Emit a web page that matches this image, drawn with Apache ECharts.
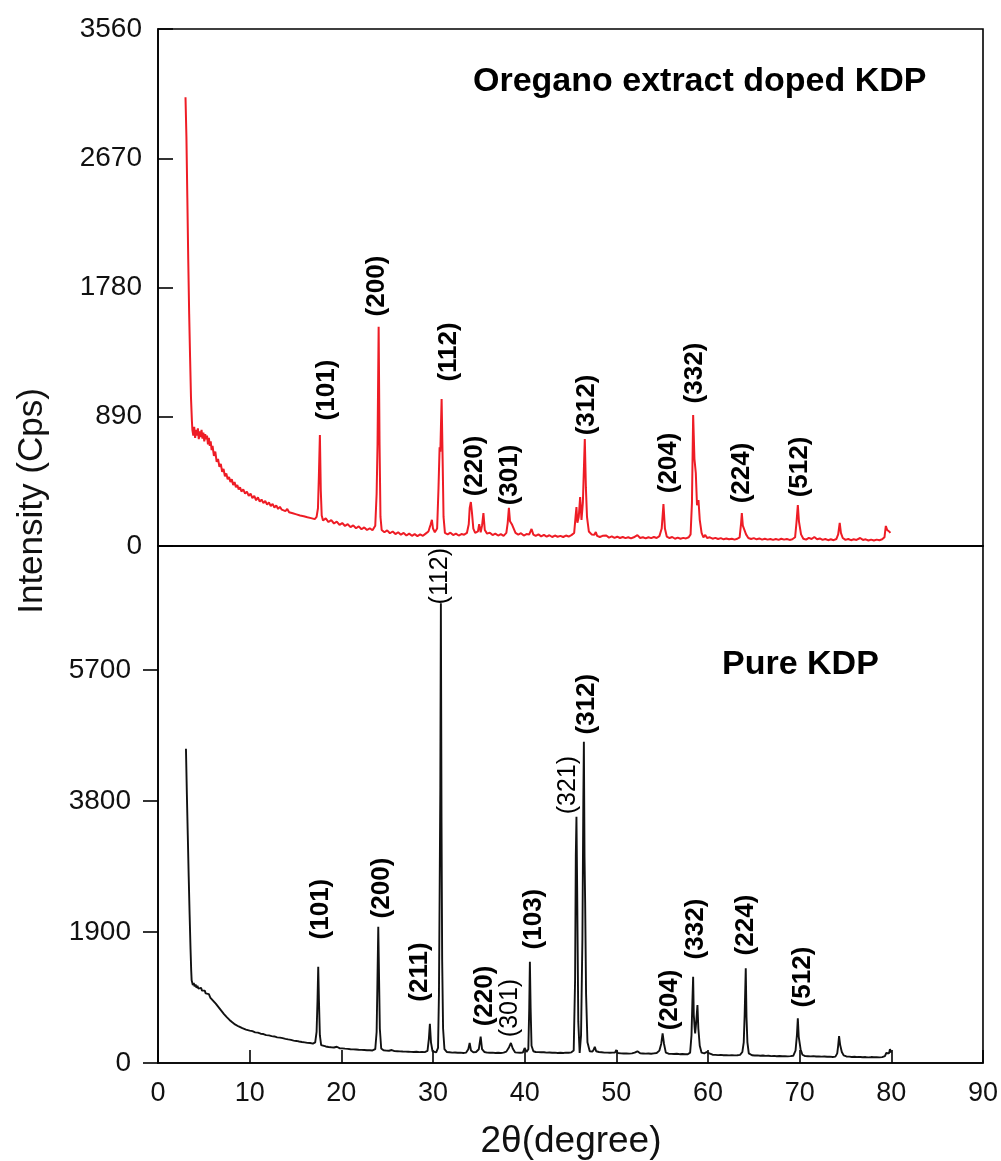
<!DOCTYPE html>
<html>
<head>
<meta charset="utf-8">
<script src="https://cdn.jsdelivr.net/npm/echarts@6/dist/echarts.min.js"></script>
<style>html,body{margin:0;padding:0;background:#fff}#c{width:1001px;height:1161px}</style>
</head>
<body>
<div id="c"></div>
<script>
// ---- DATA ----
const xTicks = [0, 10, 20, 30, 40, 50, 60, 70, 80, 90];
const dopedTicks = [0, 890, 1780, 2670, 3560];
const pureTicks = [0, 1900, 3800, 5700];

// Oregano extract doped KDP: [2theta, intensity]
const dopedXRD = [
[3.0,3090],[3.1,2820],[3.2,2400],[3.3,1970],[3.4,1600],[3.5,1300],[3.6,1020],[3.7,860],[3.75,800],
[3.85,760],[3.95,820],[4.05,745],[4.15,800],[4.25,760],[4.35,810],[4.45,735],[4.55,790],[4.65,750],[4.75,800],[4.85,740],[4.95,780],
[5.05,720],[5.15,770],[5.25,735],[5.35,760],[5.45,700],[5.55,745],[5.65,690],[5.75,720],[5.85,660],[5.95,690],[6.1,620],[6.25,650],
[6.4,580],[6.55,600],[6.7,545],[6.85,565],[7.0,510],[7.15,530],[7.3,480],[7.45,500],[7.6,460],[7.75,475],[7.9,440],[8.05,460],
[8.2,420],[8.35,440],[8.5,405],[8.65,420],[8.8,390],[8.95,405],[9.1,375],[9.3,390],[9.5,360],[9.7,375],[9.9,345],[10.1,360],
[10.3,330],[10.5,345],[10.7,315],[10.9,335],[11.1,305],[11.3,320],[11.5,295],[11.7,310],[11.9,285],[12.1,300],[12.3,275],[12.5,290],
[12.7,265],[12.9,280],[13.1,255],[13.3,270],[13.5,250],[13.7,262],[13.9,240],[14.1,255],[14.3,232],[14.5,245],[14.7,225],[14.9,238],
[15.1,218],[15.3,230],[15.5,210],[15.7,222],[15.9,205],[16.1,215],[16.3,198],[16.5,210],[16.7,192],[16.9,200],[17.1,185],
[17.3,200],[17.45,260],[17.55,480],[17.66,764],[17.76,380],[17.86,210],[18.0,175],
[18.3,190],[18.6,165],[18.9,178],[19.2,155],[19.5,168],[19.8,145],[20.1,158],[20.4,138],[20.7,150],[21.0,130],[21.3,142],[21.6,122],
[21.9,135],[22.2,115],[22.5,128],[22.8,110],[23.1,122],[23.4,108],[23.7,140],
[23.85,360],[23.95,700],[24.07,1510],[24.17,700],[24.27,200],[24.4,110],[24.7,95],[25.0,108],[25.3,88],[25.6,100],[25.9,82],[26.2,95],
[26.5,78],[26.8,90],[27.1,72],[27.4,85],[27.7,70],[28.0,82],[28.3,68],[28.6,80],[28.9,70],[29.2,85],[29.5,100],
[29.75,150],[29.88,180],[30.0,120],[30.2,95],
[30.45,120],[30.6,400],[30.72,680],[30.8,650],[30.94,1012],[31.05,600],[31.15,200],[31.3,90],[31.6,80],[31.9,92],[32.2,75],[32.5,85],
[32.8,72],[33.1,82],[33.4,78],[33.7,90],
[33.9,150],[34.0,260],[34.13,303],[34.25,230],[34.4,120],[34.6,90],[34.9,100],[35.04,151],[35.2,95],[35.35,140],[35.5,227],[35.65,110],
[35.9,85],[36.2,92],[36.5,75],[36.8,85],[37.1,72],[37.4,82],[37.7,70],[38.0,90],
[38.15,160],[38.28,262],[38.4,170],[38.6,150],[38.8,140],[39.0,90],[39.3,78],[39.6,88],[39.9,72],[40.2,82],[40.5,80],[40.75,117],
[40.95,78],[41.2,70],[41.5,80],[41.8,66],[42.1,76],[42.4,64],[42.7,74],[43.0,62],[43.3,72],[43.6,64],[43.9,70],[44.2,62],[44.5,72],
[44.8,65],[45.1,75],[45.4,90],
[45.55,200],[45.65,268],[45.75,160],[45.9,200],[46.05,337],[46.2,180],[46.35,300],[46.56,737],[46.68,400],[46.8,200],[47.0,100],
[47.3,80],[47.6,78],[47.76,96],[47.9,70],[48.2,62],[48.5,70],[48.9,72],[49.2,58],[49.5,66],[49.8,56],[50.1,64],[50.4,55],[50.7,62],
[51.0,54],[51.3,60],[51.6,52],[51.9,60],[52.3,75],[52.6,55],[52.9,60],[53.2,52],[53.5,60],[53.8,54],[54.1,62],[54.4,55],[54.7,68],
[54.95,120],[55.14,289],[55.3,120],[55.5,65],[55.8,55],[56.1,62],[56.4,50],[56.7,58],[57.0,50],[57.3,56],[57.6,52],[57.9,60],
[58.1,80],[58.25,300],[58.38,902],[58.52,600],[58.67,502],[58.8,280],[58.96,317],[59.1,180],[59.3,90],[59.5,60],[59.7,76],[59.9,55],
[60.2,60],[60.5,50],[60.8,56],[61.1,48],[61.4,54],[61.7,46],[62.0,52],[62.3,46],[62.6,50],[62.9,44],[63.2,50],[63.45,60],
[63.6,150],[63.69,227],[63.8,140],[64.0,131],[64.15,80],[64.4,55],[64.7,48],[65.0,54],[65.3,46],[65.6,52],[65.9,44],[66.2,50],
[66.5,44],[66.8,48],[67.1,42],[67.4,48],[67.7,42],[68.0,50],[68.3,44],[68.6,48],[68.9,42],[69.2,46],[69.5,60],
[69.65,160],[69.8,282],[69.92,170],[70.0,158],[70.15,80],[70.4,50],[70.7,44],[71.0,56],[71.3,48],[71.6,62],[71.9,46],[72.2,52],
[72.5,42],[72.8,48],[73.1,40],[73.4,46],[73.7,40],[74.0,48],[74.2,80],[74.37,160],[74.5,90],[74.7,55],[75.0,42],[75.3,48],[75.6,40],
[75.9,46],[76.2,42],[76.6,55],[76.9,42],[77.2,46],[77.5,38],[77.8,44],[78.1,38],[78.4,44],[78.7,40],[79.0,46],[79.25,60],[79.4,138],
[79.55,110],[79.7,120],[79.8,98],[79.9,90]
];

// Pure KDP: [2theta, intensity]
const pureXRD = [
[3.05,4560],[3.15,3900],[3.25,3300],[3.35,2700],[3.45,2150],[3.55,1650],[3.62,1350],[3.67,1200],[3.8,1130],[3.9,1160],[4.0,1110],
[4.1,1140],[4.2,1090],[4.3,1120],[4.4,1080],[4.5,1100],[4.6,1060],[4.7,1090],[4.8,1050],[4.9,1070],[5.0,1030],[5.1,1050],[5.2,1010],
[5.3,1030],[5.4,990],[5.55,1000],[5.7,950],[5.85,960],[6.0,905],[6.15,910],[6.3,860],[6.45,860],[6.6,810],[6.75,800],[6.9,760],
[7.05,750],[7.2,710],[7.35,700],[7.5,665],[7.65,655],[7.8,625],[7.95,620],[8.1,590],[8.25,585],[8.4,560],[8.6,555],[8.8,530],
[9.0,525],[9.2,505],[9.4,500],[9.6,485],[9.8,482],[10.0,470],[10.3,462],[10.6,445],[10.9,440],[11.2,425],[11.5,420],[11.8,405],
[12.1,400],[12.4,390],[12.7,385],[13.0,372],[13.3,368],[13.6,360],[13.9,350],[14.2,342],[14.5,335],[14.8,325],[15.1,320],[15.4,312],
[15.7,305],[16.0,300],[16.3,292],[16.6,290],[16.9,282],[17.15,300],
[17.3,450],[17.4,900],[17.48,1397],[17.56,900],[17.66,400],[17.8,260],[18.0,245],[18.3,240],[18.6,232],[18.9,228],[19.2,225],
[19.5,236],[19.8,215],[20.1,212],[20.4,208],[20.7,205],[21.0,200],[21.3,198],[21.6,195],[21.9,192],[22.2,190],[22.5,188],[22.8,186],
[23.1,184],[23.4,182],[23.7,200],
[23.85,450],[23.93,1100],[24.03,1977],[24.12,1200],[24.2,500],[24.35,210],[24.6,185],[24.9,180],[25.2,178],[25.5,188],[25.8,172],
[26.1,170],[26.4,168],[26.7,166],[27.0,165],[27.3,164],[27.6,162],[27.9,160],[28.2,164],[28.5,158],[28.8,160],[29.1,158],[29.4,175],
[29.55,350],[29.66,570],[29.78,300],[29.95,170],[30.15,160],[30.35,155],[30.55,220],
[30.65,1000],[30.72,2364],[30.8,4000],[30.86,6670],[30.93,3500],[31.0,1500],[31.1,500],[31.25,200],[31.5,160],[31.8,155],[32.1,150],
[32.4,152],[32.7,148],[33.0,150],[33.3,146],[33.6,150],[33.85,200],[34.0,290],[34.15,180],[34.4,155],[34.7,160],[35.0,200],[35.2,382],
[35.35,200],[35.6,160],[35.9,150],[36.2,148],[36.5,150],[36.8,146],[37.1,148],[37.4,145],[37.7,150],[38.0,165],[38.3,230],[38.5,290],
[38.7,210],[38.95,155],[39.2,150],[39.5,148],[39.8,150],[40.0,218],[40.2,160],[40.4,200],
[40.5,800],[40.57,1470],[40.65,800],[40.75,250],[40.95,170],[41.2,160],[41.5,158],[41.8,155],[42.1,156],[42.4,150],[42.7,152],
[43.0,148],[43.3,150],[43.6,146],[43.9,148],[44.2,145],[44.5,150],[44.8,148],[45.1,155],[45.35,180],
[45.5,1200],[45.58,3000],[45.65,3572],[45.73,2500],[45.85,600],[46.0,145],[46.15,400],[46.3,1800],
[46.4,3800],[46.46,4660],[46.53,3000],[46.6,2320],[46.7,1000],[46.85,300],[47.1,170],[47.4,165],[47.55,200],[47.65,236],[47.8,170],
[48.1,160],[48.4,155],[48.7,150],[49.0,150],[49.3,148],[49.6,150],[49.85,150],[50.0,188],[50.15,145],[50.5,140],[50.8,138],[51.1,140],
[51.4,136],[51.7,140],[52.0,150],[52.3,170],[52.6,140],[52.9,138],[53.2,136],[53.5,138],[53.8,135],[54.1,140],[54.4,145],[54.7,180],
[54.9,280],[55.05,430],[55.2,280],[55.4,150],[55.7,135],[56.0,132],[56.3,130],[56.6,134],[56.9,128],[57.2,130],[57.5,126],[57.8,128],
[58.05,150],[58.2,400],
[58.3,900],[58.38,1252],[58.45,700],[58.55,500],[58.6,430],[58.72,600],[58.85,841],[58.95,500],[59.1,250],[59.3,150],[59.6,140],
[59.85,160],[60.0,188],[60.15,140],[60.5,120],[60.8,118],[61.1,115],[61.4,118],[61.7,112],[62.0,115],[62.3,110],[62.6,114],
[62.9,110],[63.2,112],[63.5,118],[63.75,160],
[63.9,300],[64.0,700],[64.12,1373],[64.2,671],[64.3,300],[64.45,140],[64.8,112],[65.1,108],[65.4,110],[65.7,105],[66.0,108],
[66.3,104],[66.6,106],[66.9,100],[67.2,104],[67.5,98],[67.8,102],[68.1,98],[68.4,100],[68.7,96],[69.0,100],[69.3,105],[69.55,180],
[69.7,400],[69.8,648],[69.9,380],[69.95,334],[70.1,200],[70.3,120],[70.6,100],[70.9,98],[71.2,96],[71.5,100],[71.8,94],[72.1,96],
[72.4,92],[72.7,94],[73.0,90],[73.3,92],[73.6,88],[73.9,92],[74.1,140],[74.2,250],[74.3,391],[74.42,260],[74.6,160],[74.8,110],
[75.1,95],[75.4,92],[75.7,88],[76.0,90],[76.3,86],[76.6,88],[76.9,84],[77.2,86],[77.5,82],[77.8,86],[78.1,84],[78.4,85],[78.7,82],
[79.0,85],[79.3,100],[79.45,145],[79.6,150],[79.75,140],[79.85,200],[79.95,203],[80.0,150]
];

// Peak (hkl) labels: [text, 2theta of label centre, intensity of label centre]
const dopedLabels = [
['(101)',18.40,1074],['(200)',23.85,1790],['(112)',31.73,1336],['(220)',34.57,551],['(301)',38.39,489],
['(312)',46.78,971],['(204)',55.69,572],['(332)',58.61,1191],['(224)',63.69,503],['(512)',70.01,544]
];
const pureLabels = [
['(101)',17.78,2233],['(200)',24.43,2538],['(211)',28.57,1320],['(112)',30.75,7062],['(220)',35.66,972],
['(301)',38.39,798],['(103)',41.00,2088],['(321)',44.71,4031],['(312)',46.78,5206],['(204)',55.83,914],
['(332)',58.67,1943],['(224)',64.14,2001],['(512)',70.34,1247]
];
const pureLightLabels = ['(112)', '(321)', '(301)'];

// ---- CHART ----
const FONT = '"Liberation Sans", Arial, Helvetica, sans-serif';
const chart = echarts.init(document.getElementById('c'), null, {renderer: 'canvas'});

function labelSeries(list, xi, yi, lightSet) {
  return {
    type: 'scatter', xAxisIndex: xi, yAxisIndex: yi, symbolSize: 1,
    itemStyle: {color: 'rgba(0,0,0,0)'}, silent: true, z: 5,
    data: list.map(d => {
      const light = lightSet && lightSet.indexOf(d[0]) >= 0;
      return {
        value: [d[1], d[2]],
        label: {
          show: true, formatter: d[0], position: 'inside', rotate: 90,
          color: '#000', opacity: 1, fontFamily: FONT, fontSize: light ? 25 : 26,
          fontWeight: light ? 'normal' : 'bold'
        }
      };
    })
  };
}

const axisLineStyle = {color: '#000', width: 1.6};
const plainNum = v => String(v);

const option = {
  animation: false,
  backgroundColor: '#fff',
  grid: [
    {left: 158, right: 18, top: 29, height: 517, show: true, borderColor: '#000', borderWidth: 1.6, backgroundColor: 'transparent'},
    {left: 158, right: 18, top: 546, height: 517, show: true, borderColor: '#000', borderWidth: 1.6, backgroundColor: 'transparent'}
  ],
  xAxis: [
    {type: 'value', gridIndex: 0, min: 0, max: 90, interval: 10,
     axisLine: {show: true, onZero: false, lineStyle: axisLineStyle},
     axisTick: {show: false}, axisLabel: {show: false}, splitLine: {show: false}},
    {type: 'value', gridIndex: 1, min: 0, max: 90, interval: 10,
     axisLine: {show: true, onZero: false, lineStyle: axisLineStyle},
     axisTick: {show: true, inside: true, length: 13, lineStyle: axisLineStyle, customValues: xTicks},
     axisLabel: {show: true, margin: 17, color: '#111', fontFamily: FONT, fontSize: 27, customValues: xTicks, formatter: plainNum},
     splitLine: {show: false}}
  ],
  yAxis: [
    {type: 'value', gridIndex: 0, min: 0, max: 3560, interval: 890,
     axisLine: {show: true, onZero: false, lineStyle: axisLineStyle},
     axisTick: {show: true, inside: true, length: 15, lineStyle: axisLineStyle, customValues: dopedTicks},
     axisLabel: {show: true, margin: 16, color: '#111', fontFamily: FONT, fontSize: 28, customValues: dopedTicks, formatter: plainNum},
     splitLine: {show: false}},
    {type: 'value', gridIndex: 1, min: 0, max: 7500, interval: 1900,
     axisLine: {show: true, onZero: false, lineStyle: axisLineStyle},
     axisTick: {show: true, inside: false, length: 15, lineStyle: axisLineStyle, customValues: pureTicks},
     axisLabel: {show: true, margin: 27, color: '#111', fontFamily: FONT, fontSize: 28, customValues: pureTicks, formatter: plainNum},
     splitLine: {show: false}}
  ],
  series: [
    {type: 'line', xAxisIndex: 0, yAxisIndex: 0, data: dopedXRD, showSymbol: false, symbol: 'none',
     sampling: null, lineStyle: {color: '#ee1c25', width: 2}, itemStyle: {color: '#ee1c25'}, z: 3},
    {type: 'line', xAxisIndex: 1, yAxisIndex: 1, data: pureXRD, showSymbol: false, symbol: 'none',
     sampling: null, lineStyle: {color: '#111', width: 1.9}, itemStyle: {color: '#111'}, z: 3},
    labelSeries(dopedLabels, 0, 0, null),
    labelSeries(pureLabels, 1, 1, pureLightLabels)
  ],
  graphic: [
    {type: 'text', left: 473, top: 65, style: {text: 'Oregano extract doped KDP', fill: '#000',
      font: 'bold 34px ' + FONT}},
    {type: 'text', left: 722, top: 648, style: {text: 'Pure KDP', fill: '#000',
      font: 'bold 34px ' + FONT}},
    {type: 'text', x: 32, y: 501, rotation: Math.PI / 2, style: {text: 'Intensity (Cps)', fill: '#111',
      font: '35px ' + FONT, align: 'center', verticalAlign: 'middle'}},
    {type: 'text', x: 571, y: 1142, style: {text: '2θ(degree)', fill: '#111',
      font: '37px ' + FONT, align: 'center', verticalAlign: 'middle'}}
  ]
};
chart.setOption(option);
</script>
</body>
</html>
